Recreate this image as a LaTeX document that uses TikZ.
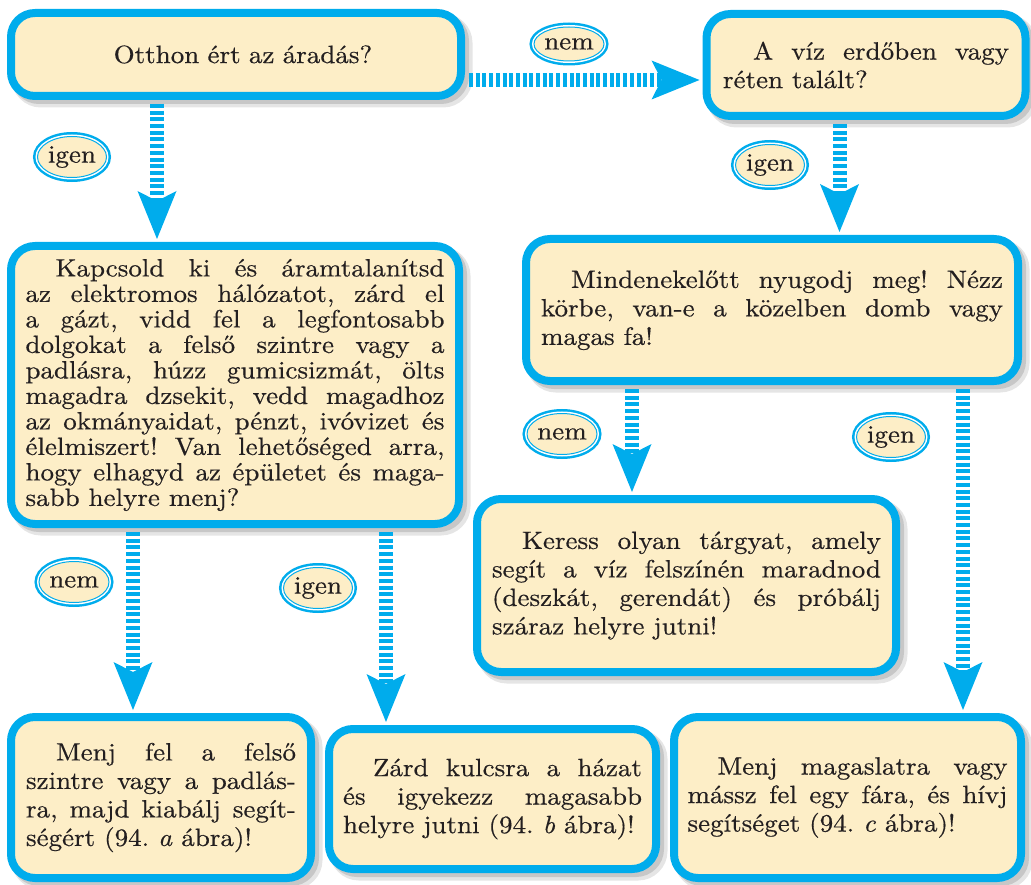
\documentclass[tikz,border=0pt]{standalone}
\usepackage{fontspec}
\setmainfont{lmroman10-regular.otf}[ItalicFont=lmroman10-italic.otf, BoldFont=lmroman10-bold.otf, FakeStretch=1.08, FakeBold=0.5]
\usetikzlibrary{arrows.meta,shapes.geometric,shadows}
\definecolor{fblue}{RGB}{0,172,236}
\definecolor{cream}{RGB}{253,238,199}
\definecolor{ink}{RGB}{35,31,32}
\tikzset{
  box/.style={draw=fblue, line width=8pt, fill=cream, rounded corners=24pt, inner sep=0pt,
    align=justify, text=ink, font=\fontsize{25}{28.5}\selectfont\frenchspacing,
    general shadow={shadow xshift=6pt,shadow yshift=-6pt, fill=black!10, draw=black!10, line width=11pt},
    general shadow={shadow xshift=4pt,shadow yshift=-4pt, fill=black!22, draw=black!22, line width=8pt}},
  flow/.style={draw=fblue, line width=14pt, dash pattern=on 4pt off 2.7pt,
    -{Stealth[length=48pt,width=39pt,inset=10pt,line width=0pt]}, shorten <=4pt, shorten >=3pt},
  lab/.style={ellipse, fill=cream, draw=fblue, line width=1pt, inner sep=0pt,
    minimum width=69pt, minimum height=41pt, text=ink, font=\fontsize{25}{28}\selectfont,
    preaction={draw=fblue, line width=9pt}, preaction={draw=white, line width=4pt}}
}
\begin{document}
\begin{tikzpicture}[x=1pt,y=-1pt]
\useasboundingbox (0,0) rectangle (1031,885);
% boxes
\node[box, minimum width=450pt, minimum height=83pt, text width=300pt, align=center] (b1) at (236,54.5)
  {\hspace*{14pt}Otthon ért az áradás?};
\node[box, minimum width=319pt, minimum height=102pt, text width=286pt] (b2) at (866,65)
  {\hspace*{30pt}A víz erdőben vagy\linebreak réten talált?};
\node[box, minimum width=448pt, minimum height=278pt, text width=419pt, font=\fontsize{25}{25.5}\selectfont\frenchspacing] (b3) at (235,385)
  {\hspace*{30pt}Kapcsold ki és áramtalanítsd\linebreak
   az elektromos hálózatot, zárd el\linebreak
   a gázt, vidd fel a legfontosabb\linebreak
   dolgokat a felső szintre vagy a\linebreak
   padlásra, húzz gumicsizmát, ölts\linebreak
   magadra dzsekit, vedd magadhoz\linebreak
   az okmányaidat, pénzt, ivóvizet és\linebreak
   élelmiszert! Van lehetőséged arra,\linebreak
   hogy elhagyd az épületet és maga-\linebreak
   sabb helyre menj?};
\node[box, minimum width=492pt, minimum height=142pt, text width=462pt] (b4) at (772,310)
  {\hspace*{30pt}Mindenekelőtt nyugodj meg! Nézz\linebreak
   körbe, van-e a közelben domb vagy\linebreak
   magas fa!};
\node[box, minimum width=419pt, minimum height=173pt, text width=389pt] (b5) at (686.5,585.5)
  {\hspace*{30pt}Keress olyan tárgyat, amely\linebreak
   segít a víz felszínén maradnod\linebreak
   (deszkát, gerendát) és próbálj\linebreak
   száraz helyre jutni!};
\node[box, minimum width=300pt, minimum height=161pt, text width=270pt] (b6) at (161,797.5)
  {\hspace*{30pt}Menj fel a felső\linebreak
   szintre vagy a padlás-\linebreak
   ra, majd kiabálj segít-\linebreak
   ségért (94. \textit{a} ábra)!};
\node[box, minimum width=327pt, minimum height=140pt, text width=299pt] (b7) at (492.5,799)
  {\hspace*{30pt}Zárd kulcsra a házat\linebreak
   és igyekezz magasabb\linebreak
   helyre jutni (94. \textit{b} ábra)!};
\node[box, minimum width=347pt, minimum height=161pt, text width=320pt] (b8) at (847.5,797.5)
  {\hspace*{30pt}Menj magaslatra vagy\linebreak
   mássz fel egy fára, és hívj\linebreak
   segítséget (94. \textit{c} ábra)!};
% connectors
\draw[flow] ([xshift=-79pt]b1.south) coordinate (s1) -- (s1 |- b3.north);
\draw[flow] ([yshift=-25.5pt]b1.east) coordinate (s2) -- (s2 -| b2.west);
\draw[flow] ([xshift=-26.5pt]b2.south) coordinate (s3) -- (s3 |- b4.north);
\draw[flow] ([xshift=-140pt]b4.south) coordinate (s4) -- (s4 |- b5.north);
\draw[flow] ([xshift=191pt]b4.south) coordinate (s5) -- (s5 |- b8.north);
\draw[flow] ([xshift=-102pt]b3.south) coordinate (s6) -- (s6 |- b6.north);
\draw[flow] ([xshift=151pt]b3.south) coordinate (s7) -- (s7 |- b7.north);
% labels
\node[lab, minimum height=34pt] (l1) at (569,44) {nem};
\node[lab] (l2) at (72,157) {igen};
\node[lab] (l3) at (770,165) {igen};
\node[lab] (l4) at (562,434) {nem};
\node[lab] (l5) at (891,437) {igen};
\node[lab] (l6) at (74,582) {nem};
\node[lab] (l7) at (318,588) {igen};
\end{tikzpicture}
\end{document}
